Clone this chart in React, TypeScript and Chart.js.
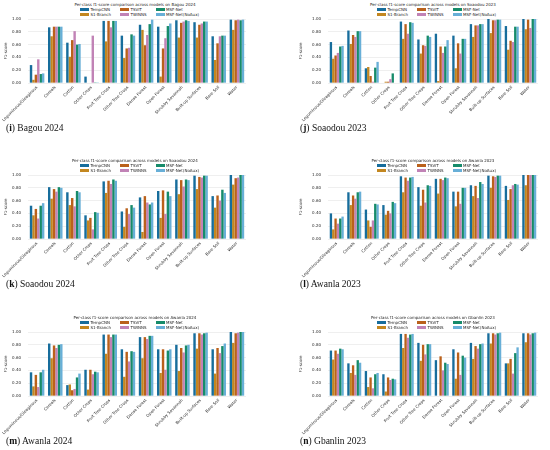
import { useEffect, useRef } from "react";
import { Chart, BarController, BarElement, CategoryScale, LinearScale } from "chart.js";

Chart.register(BarController, BarElement, CategoryScale, LinearScale);

const CLASSES = [
  "Leguminous/Oleaginous", "Cereals", "Cotton", "Other Crops", "Fruit Tree Crops", "Other Tree Crops",
  "Dense Forest", "Open Forest", "Shrubby Savannah", "Built-up Surfaces", "Bare Soil", "Water",
];
const MODELS = ["TempCNN", "S1-Branch", "TSViT", "TWINNS", "MSF-Net", "MSF-Net(NoAux)"];
const COLORS = ["#176d9c", "#c38720", "#ba611b", "#c183b6", "#168b6a", "#68afd7"];
// legend is laid out column by column, two entries each
const LEGEND_COLS = [[0, 1], [2, 3], [4, 5]];

// one row per model, one value per class (F1-score)
const BAGOU_2024 = [
  [0.28, 0.87, 0.63, 0.10, 0.97, 0.74, 0.91, 0.88, 0.98, 0.95, 0.73, 0.99],
  [0.05, 0.73, 0.41, 0.00, 0.65, 0.39, 0.83, 0.10, 0.71, 0.71, 0.36, 0.83],
  [0.13, 0.88, 0.67, 0.00, 0.97, 0.54, 0.59, 0.54, 0.94, 0.91, 0.62, 0.98],
  [0.37, 0.88, 0.81, 0.74, 0.87, 0.55, 0.75, 0.70, 0.96, 0.93, 0.73, 0.99],
  [0.14, 0.88, 0.60, 0.01, 0.97, 0.76, 0.92, 0.89, 0.98, 0.96, 0.74, 0.98],
  [0.15, 0.88, 0.61, 0.01, 0.97, 0.74, 0.99, 0.93, 0.97, 0.96, 0.74, 0.99],
];
const SOAODOU_2023 = [
  [0.64, 0.82, 0.23, 0.00, 0.96, 0.68, 0.77, 0.74, 0.92, 1.00, 0.89, 1.00],
  [0.38, 0.61, 0.25, 0.02, 0.69, 0.46, 0.03, 0.23, 0.72, 0.78, 0.52, 0.84],
  [0.43, 0.75, 0.11, 0.02, 0.92, 0.59, 0.57, 0.62, 0.90, 0.98, 0.66, 0.99],
  [0.47, 0.72, 0.02, 0.06, 0.77, 0.58, 0.47, 0.46, 0.90, 0.98, 0.64, 0.86],
  [0.57, 0.81, 0.24, 0.15, 0.95, 0.74, 0.57, 0.69, 0.92, 0.99, 0.88, 1.00],
  [0.58, 0.81, 0.33, 0.00, 0.94, 0.72, 0.67, 0.69, 0.92, 0.99, 0.88, 1.00],
];
const SOAODOU_2024 = [
  [0.52, 0.81, 0.73, 0.37, 0.90, 0.43, 0.65, 0.75, 0.93, 0.99, 0.67, 1.00],
  [0.37, 0.63, 0.53, 0.29, 0.72, 0.19, 0.11, 0.33, 0.70, 0.78, 0.49, 0.85],
  [0.47, 0.78, 0.64, 0.33, 0.91, 0.48, 0.67, 0.76, 0.92, 0.97, 0.68, 0.95],
  [0.32, 0.74, 0.51, 0.15, 0.86, 0.39, 0.57, 0.39, 0.82, 0.96, 0.60, 0.96],
  [0.52, 0.81, 0.75, 0.42, 0.93, 0.53, 0.54, 0.74, 0.93, 0.99, 0.77, 1.00],
  [0.56, 0.80, 0.73, 0.41, 0.91, 0.49, 0.57, 0.67, 0.92, 0.99, 0.72, 1.00],
];
const AWANLA_2023 = [
  [0.40, 0.73, 0.46, 0.53, 0.98, 0.81, 0.94, 0.74, 0.84, 0.99, 0.83, 1.00],
  [0.15, 0.53, 0.29, 0.38, 0.73, 0.52, 0.71, 0.51, 0.67, 0.80, 0.61, 0.84],
  [0.32, 0.68, 0.19, 0.44, 0.96, 0.77, 0.94, 0.74, 0.83, 0.98, 0.78, 1.00],
  [0.24, 0.63, 0.29, 0.40, 0.91, 0.57, 0.92, 0.55, 0.64, 0.97, 0.84, 1.00],
  [0.32, 0.73, 0.55, 0.58, 0.96, 0.84, 0.96, 0.80, 0.89, 0.99, 0.86, 1.00],
  [0.35, 0.74, 0.54, 0.56, 0.97, 0.83, 0.95, 0.80, 0.86, 0.99, 0.85, 1.00],
];
const AWANLA_2024 = [
  [0.37, 0.82, 0.17, 0.41, 0.96, 0.73, 0.92, 0.73, 0.80, 0.98, 0.73, 1.00],
  [0.15, 0.59, 0.18, 0.10, 0.66, 0.30, 0.59, 0.36, 0.39, 0.74, 0.35, 0.83],
  [0.33, 0.79, 0.09, 0.41, 0.96, 0.69, 0.92, 0.73, 0.75, 0.98, 0.75, 0.98],
  [0.14, 0.75, 0.11, 0.34, 0.92, 0.54, 0.89, 0.41, 0.68, 0.96, 0.67, 0.99],
  [0.37, 0.80, 0.29, 0.38, 0.96, 0.70, 0.94, 0.71, 0.79, 0.98, 0.78, 1.00],
  [0.41, 0.81, 0.35, 0.37, 0.96, 0.69, 0.94, 0.73, 0.80, 0.99, 0.82, 1.00],
];
const GBANLIN_2023 = [
  [0.71, 0.51, 0.39, 0.34, 0.97, 0.83, 0.56, 0.73, 0.83, 0.98, 0.51, 0.98],
  [0.57, 0.36, 0.14, 0.07, 0.75, 0.55, 0.00, 0.27, 0.58, 0.82, 0.51, 0.84],
  [0.71, 0.48, 0.29, 0.29, 0.97, 0.80, 0.62, 0.68, 0.78, 0.98, 0.58, 0.98],
  [0.66, 0.33, 0.12, 0.25, 0.91, 0.65, 0.40, 0.33, 0.74, 0.96, 0.35, 0.96],
  [0.74, 0.56, 0.34, 0.27, 0.96, 0.81, 0.52, 0.63, 0.81, 0.98, 0.67, 0.98],
  [0.73, 0.52, 0.36, 0.26, 0.97, 0.81, 0.50, 0.60, 0.82, 0.99, 0.76, 0.99],
];

const FONT = "DejaVu Sans";
const INK = "#262626";
const PLOT_H = 64;
const PAD_TOP = 3;
const X_AXIS_H = 48;

const COLUMNS = [
  { canvasLeft: 0, canvasW: 248, yW: 28, titleX: 135, legendX: 80, captionX: 6 },
  { canvasLeft: 295, canvasW: 245, yW: 33, titleX: 433, legendX: 377, captionX: 300 },
];

interface PanelProps {
  site: string;
  tag: string;
  scores: number[][];
  col: number;
  plotTop: number;
}

function Panel({ site, tag, scores, col, plotTop }: PanelProps) {
  const canvasRef = useRef<HTMLCanvasElement>(null);
  const chartRef = useRef<Chart<"bar"> | null>(null);
  const g = COLUMNS[col];

  useEffect(() => {
    if (!canvasRef.current) return;
    if (chartRef.current) chartRef.current.destroy();

    chartRef.current = new Chart(canvasRef.current, {
      type: "bar",
      data: {
        labels: CLASSES,
        datasets: MODELS.map((m, i) => ({
          label: m,
          data: scores[i],
          backgroundColor: COLORS[i],
          borderWidth: 0,
          categoryPercentage: 0.8,
          barPercentage: 1.0,
        })),
      },
      options: {
        responsive: true,
        maintainAspectRatio: false,
        animation: false,
        layout: { padding: { top: PAD_TOP, left: 0, right: 2, bottom: 0 } },
        plugins: { legend: { display: false }, tooltip: { enabled: false } },
        scales: {
          x: {
            grid: { display: false, drawTicks: false },
            border: { display: false },
            ticks: {
              autoSkip: false,
              minRotation: 45,
              maxRotation: 45,
              padding: 2,
              color: INK,
              font: { family: FONT, size: 4 },
            },
            afterFit: (s: any) => {
              s.height = X_AXIS_H;
              s.paddingLeft = 0;
              s.paddingRight = 0;
            },
          },
          y: {
            min: 0,
            max: 1,
            grid: { color: "#e8e8e8", lineWidth: 0.7, drawTicks: false },
            border: { display: false },
            ticks: {
              stepSize: 0.2,
              padding: 7,
              color: INK,
              font: { family: FONT, size: 4 },
              callback: (v: any) => Number(v).toFixed(2),
            },
            title: {
              display: true,
              text: "F1-score",
              color: INK,
              padding: 4,
              font: { family: FONT, size: 4 },
            },
            afterFit: (s: any) => {
              s.width = g.yW;
              s.paddingTop = 0;
              s.paddingBottom = 0;
            },
          },
        },
      },
    });

    return () => {
      if (chartRef.current) {
        chartRef.current.destroy();
        chartRef.current = null;
      }
    };
  }, [scores, col]);

  const small = { fontFamily: FONT, fontSize: 4, color: INK, lineHeight: "5px", whiteSpace: "nowrap" as const };

  return (
    <>
      <div
        style={{ ...small, position: "absolute", left: g.titleX - 80, width: 160, top: plotTop - 17.5, textAlign: "center" }}
      >
        Per-class f1-score comparison across models on {site}
      </div>
      <div style={{ position: "absolute", left: g.legendX, top: plotTop - 12.5, display: "flex", gap: 9 }}>
        {LEGEND_COLS.map((pair, ci) => (
          <div key={ci} style={{ display: "flex", flexDirection: "column" }}>
            {pair.map((i) => (
              <div key={MODELS[i]} style={{ ...small, display: "flex", alignItems: "center", height: 5.5 }}>
                <span style={{ width: 9, height: 3, backgroundColor: COLORS[i], marginRight: 1.5, flexShrink: 0 }} />
                <span>{MODELS[i]}</span>
              </div>
            ))}
          </div>
        ))}
      </div>
      <div
        style={{
          position: "absolute",
          left: g.canvasLeft,
          top: plotTop - PAD_TOP,
          width: g.canvasW,
          height: PAD_TOP + PLOT_H + X_AXIS_H,
        }}
      >
        <canvas ref={canvasRef} />
      </div>
      <div
        style={{
          position: "absolute",
          left: g.captionX,
          top: plotTop + 104,
          fontFamily: "Liberation Serif, serif",
          fontSize: 9.5,
          color: "#111",
          whiteSpace: "nowrap",
        }}
      >
        (<b>{tag}</b>) {site}
      </div>
    </>
  );
}

export default function App() {
  return (
    <div style={{ position: "absolute", left: 0, top: 0, width: 550, height: 450, background: "#fff", overflow: "hidden" }}>
      <Panel site="Bagou 2024" tag="i" scores={BAGOU_2024} col={0} plotTop={19} />
      <Panel site="Soaodou 2023" tag="j" scores={SOAODOU_2023} col={1} plotTop={19} />
      <Panel site="Soaodou 2024" tag="k" scores={SOAODOU_2024} col={0} plotTop={175} />
      <Panel site="Awanla 2023" tag="l" scores={AWANLA_2023} col={1} plotTop={175} />
      <Panel site="Awanla 2024" tag="m" scores={AWANLA_2024} col={0} plotTop={332} />
      <Panel site="Gbanlin 2023" tag="n" scores={GBANLIN_2023} col={1} plotTop={332} />
    </div>
  );
}
